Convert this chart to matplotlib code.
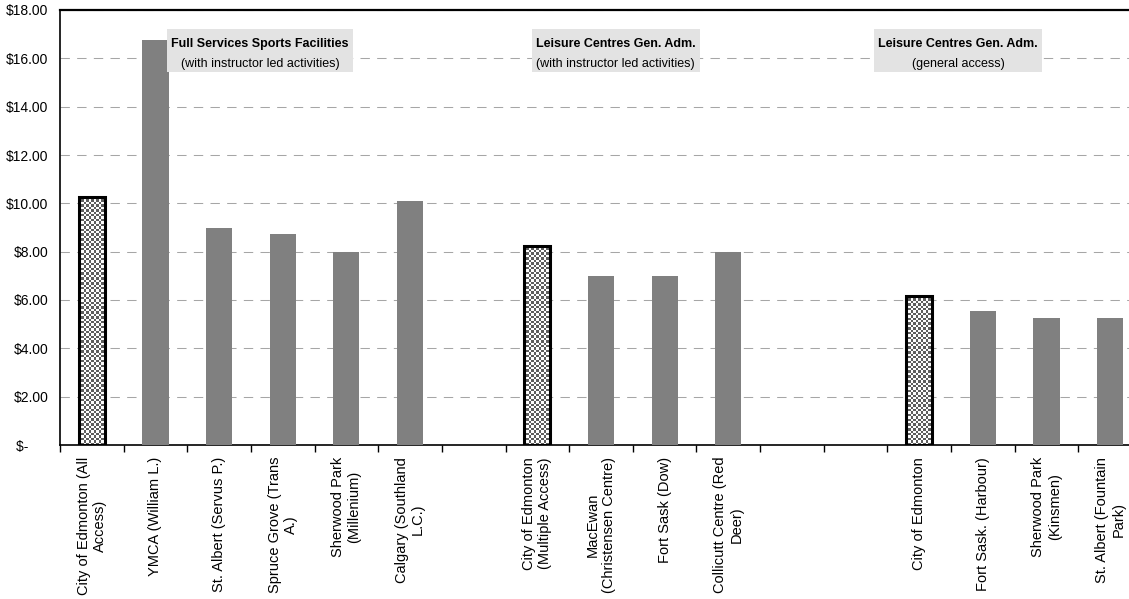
import numpy as np
import matplotlib
matplotlib.use("Agg")
import matplotlib.pyplot as plt
from matplotlib.patches import Rectangle
from matplotlib.ticker import FixedLocator, FuncFormatter

plt.rcParams['font.family'] = ['Liberation Sans', 'DejaVu Sans']

# facility labels (blank entries are the gaps between groups)
labels = ["City of Edmonton (All\nAccess)", "YMCA (William L.)", "St. Albert (Servus P.)",
          "Spruce Grove (Trans\nA.)", "Sherwood Park\n(Millenium)", "Calgary (Southland\nL.C.)",
          "",
          "City of Edmonton\n(Multiple Access)", "MacEwan\n(Christensen Centre)", "Fort Sask (Dow)",
          "Collicutt Centre (Red\nDeer)",
          "", "",
          "City of Edmonton", "Fort Sask. (Harbour)", "Sherwood Park\n(Kinsmen)",
          "St. Albert (Fountain\nPark)"]
prices = [10.25, 16.75, 9.00, 8.75, 8.00, 10.10,
          np.nan,
          8.25, 7.00, 7.00, 8.00,
          np.nan, np.nan,
          6.15, 5.55, 5.25, 5.25]
is_edmonton = [True, False, False, False, False, False,
               False,
               True, False, False, False,
               False, False,
               True, False, False, False]

group_titles = ["Full Services Sports Facilities", "Leisure Centres Gen. Adm.", "Leisure Centres Gen. Adm."]
group_subtitles = ["(with instructor led activities)", "(with instructor led activities)", "(general access)"]
# label box placement: (centre x, half width) in category units
group_boxes = [(2.64, 1.46), (8.23, 1.32), (13.61, 1.32)]

fig = plt.figure(figsize=(11.29, 5.99), dpi=100)
ax = fig.add_axes([60 / 1129, 154 / 599, 1082 / 1129, 435 / 599])

x = np.arange(len(labels))
w = 0.41
vals = np.array(prices, dtype=float)

plain = [(xi, v) for xi, v, e in zip(x, vals, is_edmonton) if not e and not np.isnan(v)]
ax.bar([p[0] for p in plain], [p[1] for p in plain], width=w, color='#808080', zorder=3)

# checkered bars for City of Edmonton
for xi, v, e in zip(x, vals, is_edmonton):
    if not e:
        continue
    rows = int(round(v / 0.1))
    cols = 11
    checker = (np.indices((rows, cols)).sum(axis=0) % 2).astype(float)
    rect = Rectangle((xi - w / 2, 0), w, v, transform=ax.transData, facecolor='none')
    im = ax.imshow(checker, extent=(xi - w / 2, xi + w / 2, 0, v), cmap='gray',
                   vmin=-0.6, vmax=1.0, interpolation='nearest', aspect='auto', zorder=3)
    im.set_clip_path(rect)
    ax.bar(xi, v, width=w, facecolor='none', edgecolor='black', linewidth=2.2, zorder=4)

ax.set_xlim(-0.5, len(labels) - 0.5)
ax.set_ylim(0, 18)

# y axis
ax.set_yticks(np.arange(0, 19, 2))
ax.yaxis.set_major_formatter(FuncFormatter(lambda v, p: "$-     " if v == 0 else f"${v:.2f}"))
ax.tick_params(axis='y', length=0, pad=8.5, labelsize=10)
ax.grid(axis='y', color='#a6a6a6', linestyle=(0, (9, 7)), linewidth=0.75, zorder=0)

# x axis: ticks between categories, labels at centres
ax.xaxis.set_major_locator(FixedLocator(np.arange(-0.5, len(labels), 1)))
ax.xaxis.set_minor_locator(FixedLocator(x))
ax.set_xticklabels([], minor=False)
ax.set_xticklabels(labels, minor=True, rotation=90, va='top', ha='center',
                   multialignment='center', fontsize=10.5)
ax.tick_params(axis='x', which='major', length=5, width=1, direction='out')
ax.tick_params(axis='x', which='minor', length=0, pad=8.5)

for s in ['left', 'bottom']:
    ax.spines[s].set_linewidth(1.2)
ax.spines['top'].set_linewidth(1.6)
ax.spines['right'].set_visible(False)

# group label boxes
for (cx, hw), t, st in zip(group_boxes, group_titles, group_subtitles):
    ax.add_patch(Rectangle((cx - hw, 15.43), 2 * hw, 1.78, facecolor='#e3e3e3',
                           edgecolor='none', zorder=5))
    ax.text(cx, 16.59, t, ha='center', va='center', fontsize=9, fontweight='bold', zorder=6)
    ax.text(cx, 15.76, st, ha='center', va='center', fontsize=9, zorder=6)

fig.savefig("out.png", dpi=100)
